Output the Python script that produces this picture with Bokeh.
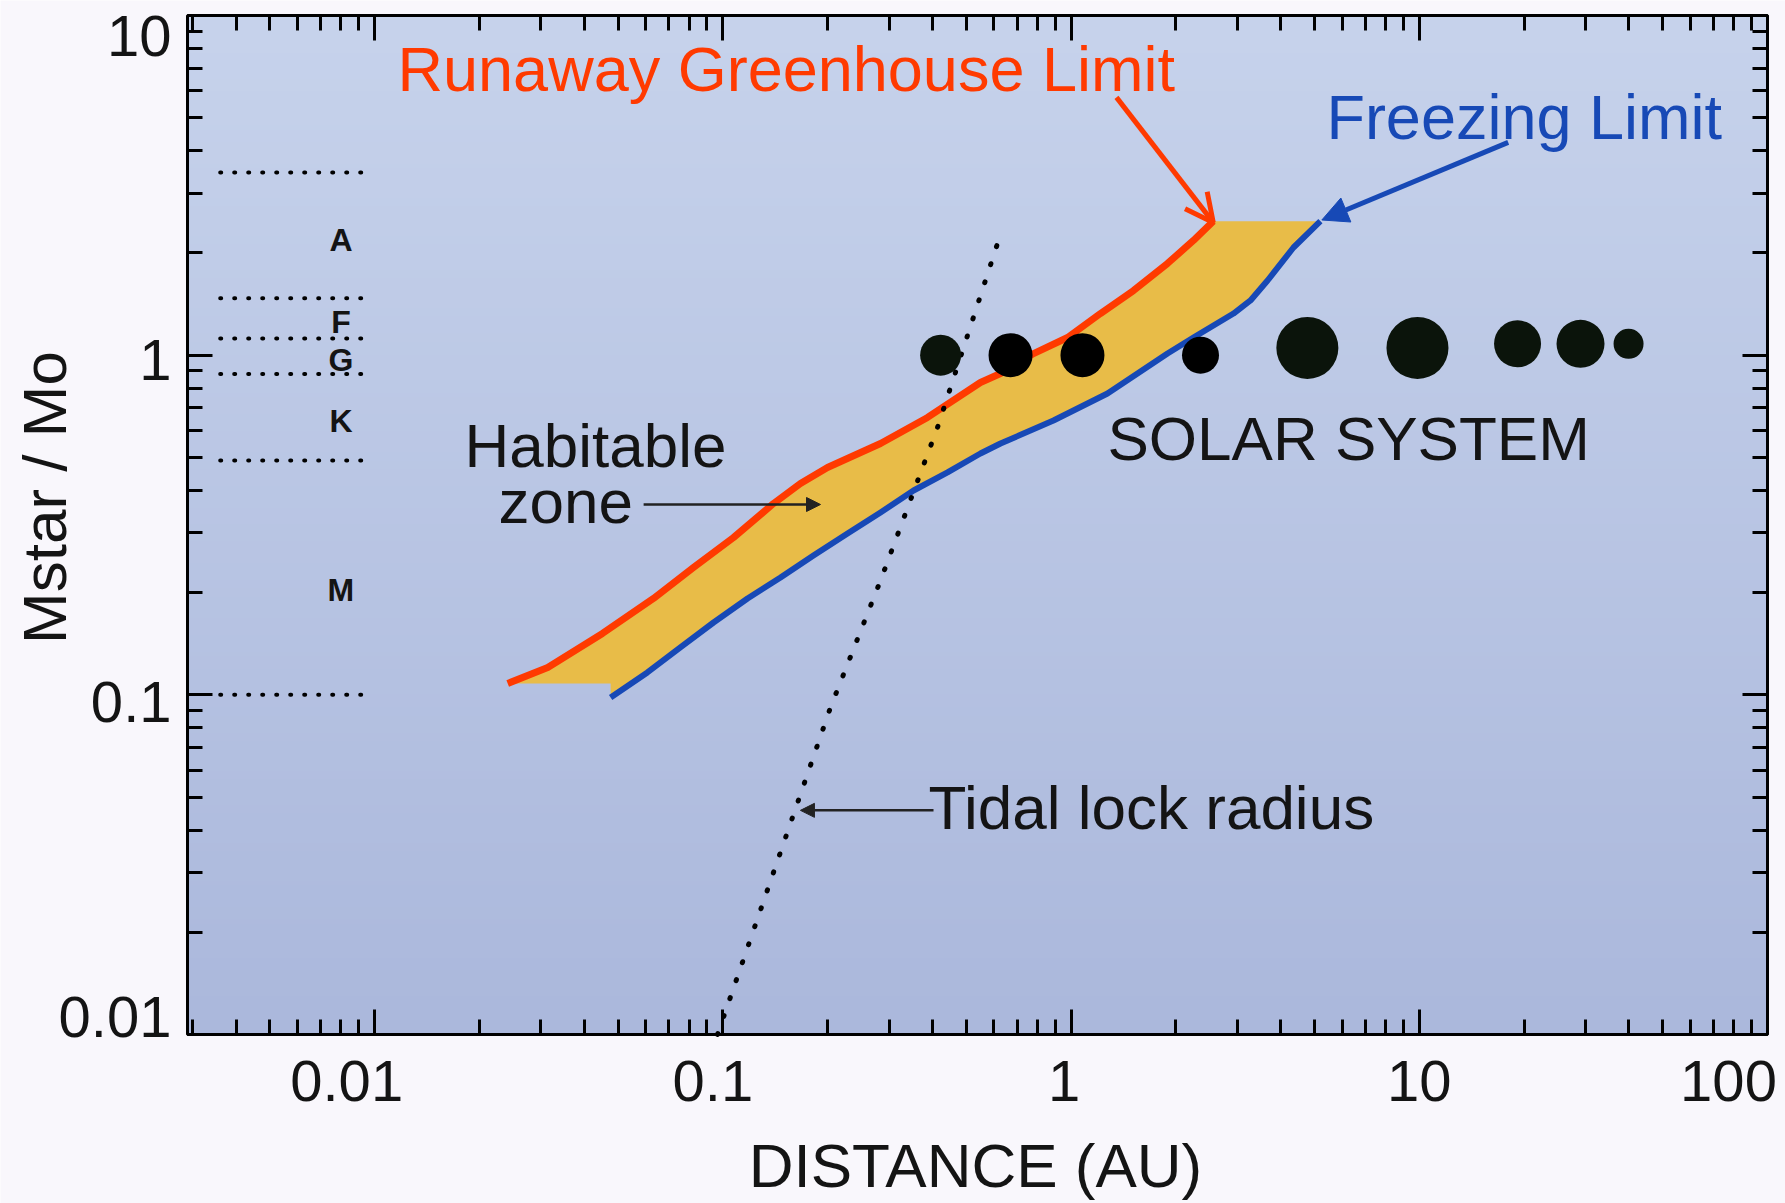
import math
import numpy as np
from bokeh.plotting import figure
from bokeh.models import (Range1d, LogAxis, FixedTicker, Label, Arrow, OpenHead,
                          NormalHead, CustomJSTickFormatter)
from bokeh.embed import file_html
from bokeh.resources import INLINE

# ---------------- data ----------------
# Runaway greenhouse (inner) limit of the habitable zone: distance (AU) vs stellar mass (Msun)
greenhouse_au = [0.0241, 0.0314, 0.0451, 0.0632, 0.0823, 0.1073, 0.1398, 0.167, 0.1997,
                 0.2836, 0.387, 0.549, 0.627, 0.780, 0.977, 1.214, 1.511, 1.892, 2.246, 2.56]
greenhouse_mass = [0.108, 0.1204, 0.1516, 0.1922, 0.2371, 0.2905, 0.366, 0.419, 0.467,
                   0.5495, 0.6556, 0.831, 0.883, 1.011, 1.127, 1.326, 1.55, 1.862, 2.176, 2.48]

# Freezing (outer) limit
freezing_au = [0.0476, 0.0607, 0.0755, 0.094, 0.1177, 0.1464, 0.182, 0.228, 0.2836, 0.3528,
               0.4417, 0.549, 0.627, 0.890, 1.272, 1.892, 2.246, 2.927, 3.275, 3.666, 4.352, 5.2]
freezing_mass = [0.0982, 0.1164, 0.1379, 0.1633, 0.1922, 0.2215, 0.2572, 0.2985, 0.3442, 0.3996,
                 0.4515, 0.5134, 0.5495, 0.642, 0.771, 1.011, 1.127, 1.326, 1.449, 1.659, 2.075, 2.48]

# Tidal lock radius
tidal_au = [0.0965, 0.2037, 0.2836, 0.4134, 0.6147]
tidal_mass = [0.01, 0.0918, 0.2171, 0.6126, 2.132]

# Spectral class boundaries (Msun) and class labels
class_bounds = [3.45, 1.47, 1.12, 0.88, 0.49, 0.1]
class_names = ["A", "F", "G", "K", "M"]
class_label_mass = [2.19, 1.256, 0.971, 0.638, 0.204]

# Solar system planets
planet_names = ["Mercury", "Venus", "Earth", "Mars", "Jupiter", "Saturn", "Uranus", "Neptune", "Pluto"]
planet_au = [0.422, 0.670, 1.078, 2.353, 4.77, 9.88, 19.15, 29.04, 39.9]
planet_mass = [1.0, 1.0, 1.0, 1.0, 1.05, 1.05, 1.08, 1.08, 1.08]

# Axis ticks
x_ticks = [0.01, 0.1, 1, 10, 100]
x_tick_labels = ["0.01", "0.1", "1", "10", "100"]
y_ticks = [0.01, 0.1, 1, 10]
y_tick_labels = ["0.01", "0.1", "1", "10"]

# ---------------- styles ----------------
FONT = "Liberation Sans"
RED = "#FF3A00"
BLUE = "#1749B6"
GOLD = "#E8BC48"
INK = "#141414"
PAGE = "#F9F7FC"
planet_px = [41, 44, 44, 37, 62, 62, 47, 48, 30]
planet_color = ["#0b140b", "#000000", "#000000", "#000000", "#0b140b", "#0b140b",
                "#0b140b", "#0b140b", "#0b140b"]
x_label_nudge = [-28, -10, -7, 0, -39]
y_label_nudge = [18, -7, -5, -20]

# plotting box (data limits) and the margin around it expressed in the same log units
X0, X1 = 0.0029, 100
Y0, Y1 = 0.01, 10
W, H = 1785, 1203
BOX_L, BOX_R, BOX_T, BOX_B = 187, 1767, 15, 1034
kx = (BOX_R - BOX_L) / math.log10(X1 / X0)
ky = (BOX_B - BOX_T) / math.log10(Y1 / Y0)
view_x = (X0 * 10 ** (-BOX_L / kx), X1 * 10 ** ((W - BOX_R) / kx))
view_y = (Y0 * 10 ** (-(H - BOX_B) / ky), Y1 * 10 ** (BOX_T / ky))

p = figure(width=W, height=H, x_axis_type="log", y_axis_type="log",
           x_range=Range1d(*view_x), y_range=Range1d(*view_y),
           output_backend="svg", toolbar_location=None, min_border=0)
p.border_fill_color = PAGE
p.background_fill_color = PAGE
p.outline_line_color = None
p.xgrid.visible = False
p.ygrid.visible = False

minor_x = [m * 10.0 ** e for e in range(-3, 2) for m in range(2, 10)]
minor_x = [v for v in minor_x if X0 <= v <= X1]
minor_y = [m * 10.0 ** e for e in range(-2, 1) for m in range(2, 10)]


def style_axis(ax, ticks, minors, bounds, where):
    ax.ticker = FixedTicker(ticks=ticks, minor_ticks=minors)
    ax.formatter = CustomJSTickFormatter(code="return ''")
    ax.bounds = bounds
    ax.fixed_location = where
    ax.axis_line_color = None
    ax.major_tick_in = 25
    ax.major_tick_out = 0
    ax.minor_tick_in = 15
    ax.minor_tick_out = 0
    ax.major_tick_line_width = 3
    ax.minor_tick_line_width = 3
    ax.major_tick_line_color = "black"
    ax.minor_tick_line_color = "black"
    ax.major_label_text_font_size = "0px"
    ax.major_label_standoff = 0


bottom_axis = p.below[0]
left_axis = p.left[0]
top_axis = LogAxis()
right_axis = LogAxis()
p.add_layout(top_axis, "above")
p.add_layout(right_axis, "right")
style_axis(bottom_axis, x_ticks, minor_x, (X0, X1), Y0)
style_axis(top_axis, x_ticks, minor_x, (X0, X1), Y1)
style_axis(left_axis, y_ticks, minor_y, (Y0, Y1), X0)
style_axis(right_axis, y_ticks, minor_y, (Y0, Y1), X1)

# soft vertical shading of the plotting area
rows = 240
t = np.linspace(0.0, 1.0, rows)[:, None]
bottom_rgb = np.array([171, 184, 220])
top_rgb = np.array([199, 211, 236])
rgb = bottom_rgb + (top_rgb - bottom_rgb) * t
img = np.empty((rows, 2), dtype=np.uint32)
view = img.view(dtype=np.uint8).reshape((rows, 2, 4))
for c in range(3):
    view[:, :, c] = rgb[:, c:c + 1].astype(np.uint8)
view[:, :, 3] = 255
p.image_rgba(image=[img], x=X0, y=Y0, dw=X1 - X0, dh=Y1 - Y0)

# spectral class boundaries
for m in class_bounds:
    p.line([0.0036, 0.0099], [m, m], line_color="black", line_width=4,
           line_dash="1 13", line_cap="round")
for name, m in zip(class_names, class_label_mass):
    p.add_layout(Label(x=0.008, y=m, text=name, text_font=FONT, text_font_size="32px",
                       text_font_style="bold", text_color=INK, text_align="center",
                       text_baseline="middle"))

# habitable zone band: inner limit out, outer limit back, flat base at the low-mass end
fill_x = greenhouse_au + freezing_au[::-1] + [freezing_au[0]]
fill_y = greenhouse_mass + freezing_mass[::-1] + [greenhouse_mass[0]]
p.patch(fill_x, fill_y, fill_color=GOLD, line_color=None)
p.line(greenhouse_au, greenhouse_mass, line_color=RED, line_width=7, line_join="round")
p.line(freezing_au, freezing_mass, line_color=BLUE, line_width=6, line_join="round")

# tidal lock radius
p.line(tidal_au, tidal_mass, line_color="black", line_width=5, line_dash="1 18",
       line_cap="round")

# planets
p.scatter(planet_au, planet_mass, size=planet_px, fill_color=planet_color,
          line_color=None, marker="circle")

# box border
p.quad(left=X0, right=X1, bottom=Y0, top=Y1, fill_color=None,
       line_color="black", line_width=3)

# annotations with arrows
p.add_layout(Arrow(x_start=1.35, y_start=5.74, x_end=2.56, y_end=2.46,
                   line_color=RED, line_width=5,
                   end=OpenHead(size=28, line_color=RED, line_width=5)))
p.add_layout(Arrow(x_start=18.0, y_start=4.23, x_end=5.25, y_end=2.5,
                   line_color=BLUE, line_width=5,
                   end=NormalHead(size=26, fill_color=BLUE, line_color=BLUE)))
p.add_layout(Arrow(x_start=0.0592, y_start=0.3634, x_end=0.1907, y_end=0.3634,
                   line_color="#222222", line_width=2.5,
                   end=NormalHead(size=14, fill_color="#222222", line_color="#222222")))
p.add_layout(Arrow(x_start=0.4026, y_start=0.0457, x_end=0.167, y_end=0.0457,
                   line_color="#222222", line_width=2.5,
                   end=NormalHead(size=14, fill_color="#222222", line_color="#222222")))


def note(text, x, y, size, color, align="left", x_offset=0, y_offset=0, angle=0.0):
    p.add_layout(Label(x=x, y=y, text=text, text_font=FONT, text_font_size=f"{size}px",
                       text_color=color, text_align=align, text_baseline="middle",
                       x_offset=x_offset, y_offset=y_offset, angle=angle))


# y given at the text baseline; the middle of the capitals sits ~22px above it
note("Runaway Greenhouse Limit", 0.01163, 6.01, 63, RED, y_offset=22)
note("Freezing Limit", 5.41, 4.32, 63, BLUE, y_offset=22)
note("Habitable", 0.01811, 0.467, 62, INK, y_offset=22)
note("zone", 0.02267, 0.3195, 62, INK, y_offset=22)
note("SOLAR SYSTEM", 1.272, 0.4898, 62, INK, y_offset=22)
note("Tidal lock radius", 0.3894, 0.0402, 62, INK, y_offset=22)

# tick labels and axis titles
for v, txt, dx in zip(x_ticks, x_tick_labels, x_label_nudge):
    note(txt, v, Y0, 58, INK, align="center", x_offset=dx, y_offset=-46)
for v, txt, dy in zip(y_ticks, y_tick_labels, y_label_nudge):
    note(txt, X0, v, 58, INK, align="right", x_offset=-16, y_offset=dy)
note("DISTANCE (AU)", 0.504, Y0, 62, INK, align="center", x_offset=8, y_offset=-131)
note("Mstar / Mo", X0, 0.381, 62, INK, align="center", x_offset=-143, angle=math.pi / 2)

open("out.html", "w").write(file_html(p, INLINE))
